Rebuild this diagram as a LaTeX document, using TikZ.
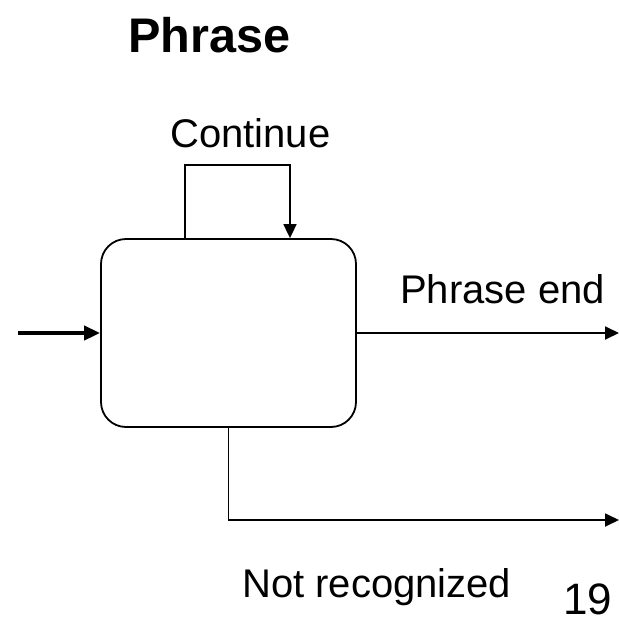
\documentclass[tikz,border=0pt]{standalone}
\usepackage{fontspec}
\setmainfont{Liberation Sans}
\usetikzlibrary{arrows.meta}
\tikzset{
  conn/.style={line width=1.8pt, -{Triangle[length=14pt,width=13pt]}},
  thickconn/.style={line width=4pt, -{Triangle[length=16pt,width=14pt]}},
  lbl/.style={inner sep=0pt, anchor=base west, font=\fontsize{40}{48}\selectfont},
  ttl/.style={inner sep=0pt, anchor=base west, font=\fontsize{48.6}{56}\selectfont\bfseries},
  pagenum/.style={inner sep=0pt, anchor=base west, font=\fontsize{44}{52}\selectfont},
  statebox/.style={draw, line width=1.8pt, rounded corners=25pt, minimum width=255pt, minimum height=188pt, inner sep=0pt}
}
\begin{document}
\begin{tikzpicture}[x=1pt, y=-1pt]
\useasboundingbox (0,0) rectangle (619,622);
\node[ttl] (title) at (128,52) {Phrase};
\node[statebox] (box) at (228.5,333) {};
\coordinate (in) at (18,333);
\coordinate (out1) at (619,333);
\coordinate (out2) at (619,520);
\draw[thickconn] (in) -- (box.west);
\draw[conn] ([xshift=-43.5pt]box.north) -- ++(0,-73) -| ([xshift=61.5pt]box.north);
\draw[conn] (box.east) -- (out1);
\draw[conn] (box.south) |- (out2);
\node[lbl] (cont) at (170,147) {Continue};
\node[lbl] (pend) at (400,303) {Phrase end};
\node[lbl] (notrec) at (242,597) {Not recognized};
\node[pagenum] (pg) at (563,614) {19};
\end{tikzpicture}
\end{document}
